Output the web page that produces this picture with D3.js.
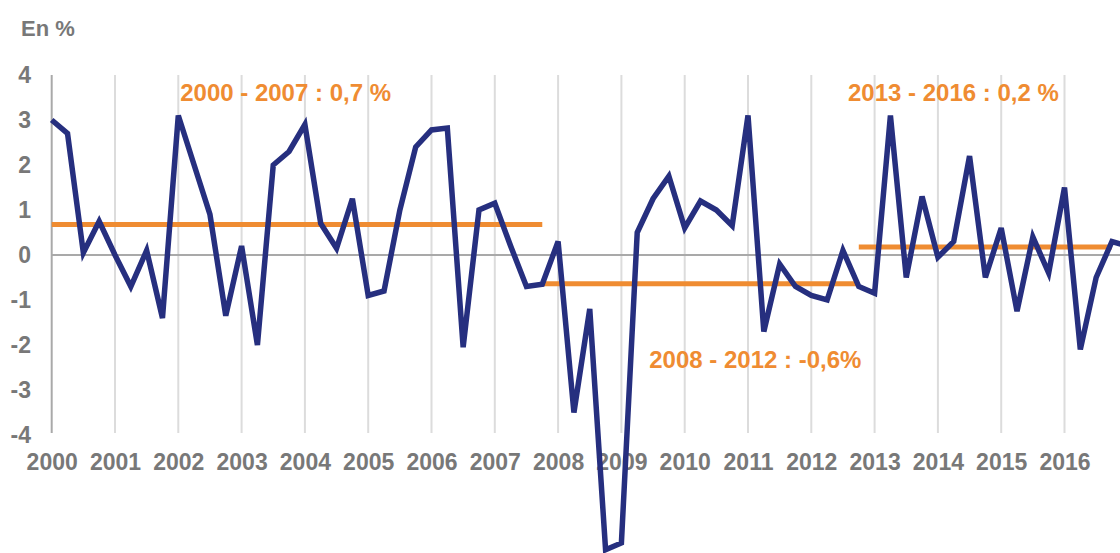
<!DOCTYPE html>
<html>
<head>
<meta charset="utf-8">
<script src="https://cdn.jsdelivr.net/npm/d3@7"></script>
<style>
  html, body { margin: 0; padding: 0; background: #ffffff; }
  svg { display: block; font-family: "Liberation Sans", Arial, sans-serif; }
</style>
</head>
<body>
<svg id="chart" width="1120" height="553"></svg>
<script>
// ---- Data ----
const startYear = 2000;
const yearLabels = [2000, 2001, 2002, 2003, 2004, 2005, 2006, 2007, 2008,
                    2009, 2010, 2011, 2012, 2013, 2014, 2015, 2016];
const yTicks = [-4, -3, -2, -1, 0, 1, 2, 3, 4];
// quarterly values, starting 2000 Q1
const quarterValues = [
  3.0, 2.7, 0.05, 0.75,      // 2000
  0.0, -0.7, 0.1, -1.4,      // 2001
  3.1, 2.0, 0.9, -1.35,      // 2002
  0.2, -2.0, 2.0, 2.3,       // 2003
  2.9, 0.7, 0.15, 1.25,      // 2004
  -0.9, -0.8, 1.0, 2.4,      // 2005
  2.78, 2.82, -2.05, 1.0,    // 2006
  1.15, 0.2, -0.7, -0.65,    // 2007
  0.3, -3.5, -1.2, -6.55,    // 2008
  -6.4, 0.5, 1.25, 1.75,     // 2009
  0.6, 1.2, 1.0, 0.65,       // 2010
  3.1, -1.7, -0.2, -0.7,     // 2011
  -0.9, -1.0, 0.1, -0.7,     // 2012
  -0.85, 3.1, -0.5, 1.3,     // 2013
  -0.05, 0.3, 2.2, -0.5,     // 2014
  0.6, -1.25, 0.4, -0.4,     // 2015
  1.5, -2.1, -0.5, 0.3,      // 2016
  0.2                        // 2017 Q1
];
const periodLabels = ["2000 - 2007 : 0,7 %", "2008 - 2012 : -0,6%", "2013 - 2016 : 0,2 %"];
const periodStart = [2000.0, 2007.75, 2012.75];
const periodEnd = [2007.75, 2012.75, 2016.75];
const periodMeans = [0.68, -0.64, 0.18];

// ---- Layout ----
const svg = d3.select("#chart");
const x = d3.scaleLinear().domain([2000, 2017]).range([51.7, 1127.8]);
const y = d3.scaleLinear().domain([-4, 4]).range([435, 75]);

const textGray = "#787878";
const navy = "#262f7f";
const orange = "#ef8c32";

// vertical gridlines at each year
svg.append("g")
  .selectAll("line")
  .data(yearLabels)
  .join("line")
  .attr("x1", d => x(d)).attr("x2", d => x(d))
  .attr("y1", y(4)).attr("y2", y(-4) - 2)
  .attr("stroke", (d, i) => i === 0 ? "#a9a9a9" : "#dcdcdc")
  .attr("stroke-width", 2);

// zero line
svg.append("line")
  .attr("x1", x(2000)).attr("x2", 1120)
  .attr("y1", y(0)).attr("y2", y(0))
  .attr("stroke", "#a9a9a9")
  .attr("stroke-width", 2);

// y axis labels
const yAxis = d3.axisLeft(y).tickValues(yTicks).tickSize(0).tickPadding(0)
  .tickFormat(d => String(d));
const gy = svg.append("g").attr("transform", "translate(31,0)").call(yAxis);
gy.select(".domain").remove();
gy.selectAll("text")
  .attr("fill", textGray)
  .attr("font-size", 23)
  .attr("font-weight", "bold")
  .attr("font-family", "Liberation Sans, Arial, sans-serif");

// x axis labels
const xAxis = d3.axisBottom(x).tickValues(yearLabels).tickSize(0).tickPadding(0)
  .tickFormat(d => String(d));
const gx = svg.append("g").attr("transform", "translate(0,454)").call(xAxis);
gx.select(".domain").remove();
gx.selectAll("text")
  .attr("fill", textGray)
  .attr("font-size", 23)
  .attr("font-weight", "bold")
  .attr("font-family", "Liberation Sans, Arial, sans-serif");

// "En %" title
svg.append("text")
  .attr("x", 21).attr("y", 36)
  .attr("fill", textGray)
  .attr("font-size", 22)
  .attr("font-weight", "bold")
  .text("En %");

// period mean lines
svg.append("g")
  .selectAll("line")
  .data(periodMeans)
  .join("line")
  .attr("x1", (d, i) => x(periodStart[i]))
  .attr("x2", (d, i) => x(periodEnd[i]))
  .attr("y1", d => y(d)).attr("y2", d => y(d))
  .attr("stroke", orange)
  .attr("stroke-width", 5);

// main series
const line = d3.line()
  .x((d, i) => x(startYear + i / 4))
  .y(d => y(d));
svg.append("path")
  .datum(quarterValues)
  .attr("d", line)
  .attr("fill", "none")
  .attr("stroke", navy)
  .attr("stroke-width", 5.5)
  .attr("stroke-linejoin", "miter");

// period annotations
const labelX = [x(2002.03), x(2009.44), x(2012.58)];
const labelY = [y(3.62), y(-2.33), y(3.62)];
svg.append("g")
  .selectAll("text")
  .data(periodLabels)
  .join("text")
  .attr("x", (d, i) => labelX[i])
  .attr("y", (d, i) => labelY[i])
  .attr("dy", "0.36em")
  .attr("fill", orange)
  .attr("font-size", 24)
  .attr("font-weight", "bold")
  .text(d => d);
</script>
</body>
</html>
